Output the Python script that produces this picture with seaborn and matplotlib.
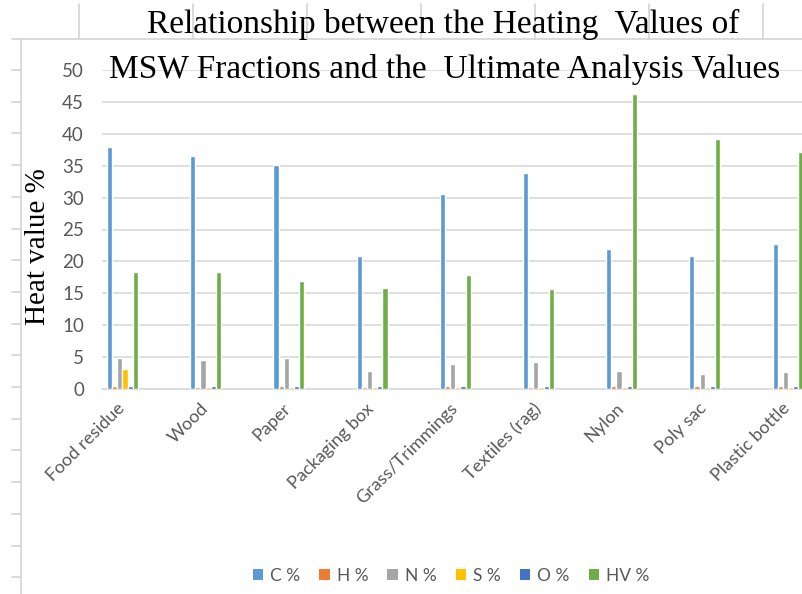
import matplotlib
matplotlib.use("Agg")
import matplotlib.pyplot as plt
import matplotlib.transforms as mtransforms
from matplotlib.lines import Line2D
from matplotlib.patches import Patch
import seaborn as sns
import pandas as pd

# MSW fractions and their ultimate analysis / heating values
categories = ["Food residue", "Wood", "Paper", "Packaging box", "Grass/Trimmings",
              "Textiles (rag)", "Nylon", "Poly sac", "Plastic bottle"]
series_names = ["C %", "H %", "N %", "S %", "O %", "HV %"]

c_pct = [38.0, 36.5, 35.1, 20.9, 30.6, 33.9, 22.0, 20.8, 22.8]
h_pct = [0.4, 0.35, 0.4, 0.3, 0.4, 0.3, 0.4, 0.4, 0.4]
n_pct = [4.8, 4.5, 4.8, 2.8, 3.9, 4.2, 2.8, 2.4, 2.7]
s_pct = [3.1, 0.3, 0.3, 0.3, 0.3, 0.3, 0.3, 0.3, 0.3]
o_pct = [0.4, 0.4, 0.4, 0.4, 0.4, 0.4, 0.4, 0.4, 0.4]
hv_pct = [18.3, 18.4, 17.0, 15.9, 17.8, 15.6, 46.2, 39.2, 37.1]

y_ticks = [0, 5, 10, 15, 20, 25, 30, 35, 40, 45, 50]

colors = ["#5B9BD5", "#ED7D31", "#A5A5A5", "#FFC000", "#4472C4", "#70AD47"]

values = [c_pct, h_pct, n_pct, s_pct, o_pct, hv_pct]
rows = []
for name, vals in zip(series_names, values):
    for cat, v in zip(categories, vals):
        rows.append({"Fraction": cat, "Series": name, "Value": v})
df = pd.DataFrame(rows)

sns.set_theme(style="white")
plt.rcParams["font.family"] = ["Lato", "DejaVu Sans"]

W, H = 803, 594
fig = plt.figure(figsize=(W / 100, H / 100), dpi=100)
fig.patch.set_facecolor("white")

# worksheet cell lines showing around the chart object
line_col = "#D4D4D4"
fig.add_artist(Line2D([12 / W, 1], [1 - 39 / H, 1 - 39 / H], color=line_col, lw=1.2))
fig.add_artist(Line2D([21 / W, 21 / W], [0, 1 - 39 / H], color=line_col, lw=1.2))
for xc in [79, 193, 307, 421, 535, 649, 763]:
    fig.add_artist(Line2D([xc / W, xc / W], [1 - 39 / H, 1 - 4 / H], color=line_col, lw=1.2))
for k in range(17):
    yr = 70 + 31.7 * k
    fig.add_artist(Line2D([12 / W, 21 / W], [1 - yr / H, 1 - yr / H], color=line_col, lw=1.2))

left, right, top, bottom = 102, 803, 70, 389
ax = fig.add_axes([left / W, 1 - bottom / H, (right - left) / W, (bottom - top) / H])
ax.set_facecolor("none")

sns.barplot(data=df, x="Fraction", y="Value", hue="Series", order=categories,
            hue_order=series_names, palette=colors, width=0.3726, gap=0,
            saturation=1, dodge=True, errorbar=None, ax=ax, legend=False, zorder=3)

ax.set_ylim(0, 50)
ax.set_yticks(y_ticks)
ax.set_xlim(-0.246, 8.18)
ax.yaxis.grid(True, color="#D9D9D9", lw=1.2, zorder=0)
ax.set_axisbelow(True)
for side in ["top", "right", "left"]:
    ax.spines[side].set_visible(False)
ax.spines["bottom"].set_color("#D9D9D9")
ax.spines["bottom"].set_linewidth(1.2)
ax.tick_params(axis="y", length=0, pad=13, labelsize=13.5, labelcolor="#595959")
ax.tick_params(axis="x", length=0, pad=6, labelsize=13, labelcolor="#595959")
ax.set_xlabel("")
ax.set_ylabel("")
shift = mtransforms.ScaledTranslation(-6 / 100, -3 / 100, fig.dpi_scale_trans)
for lbl in ax.get_xticklabels():
    lbl.set_rotation(45)
    lbl.set_ha("right")
    lbl.set_va("top")
    lbl.set_rotation_mode("anchor")
    lbl.set_transform(lbl.get_transform() + shift)

# axis title and chart title in a serif face
serif = ["Liberation Serif", "DejaVu Serif"]
fig.text(38 / W, 1 - 247 / H, "Heat value %", rotation=90, ha="center", va="center",
         fontsize=21, family=serif, color="black")
fig.text(443 / W, 1 - 33 / H, "Relationship between the Heating  Values of",
         ha="center", va="baseline", fontsize=24, family=serif, color="black")
fig.text(445 / W, 1 - 78 / H, "MSW Fractions and the  Ultimate Analysis Values",
         ha="center", va="baseline", fontsize=24, family=serif, color="black")

handles = [Patch(facecolor=c, edgecolor="none") for c in colors]
fig.legend(handles, series_names, loc="center", bbox_to_anchor=(451 / W, 1 - 576 / H),
           ncol=6, frameon=False, fontsize=12.5, handlelength=0.6, handleheight=0.6,
           handletextpad=0.4, columnspacing=1.1, labelcolor="#595959")

fig.savefig("out.png", dpi=100, facecolor="white")
